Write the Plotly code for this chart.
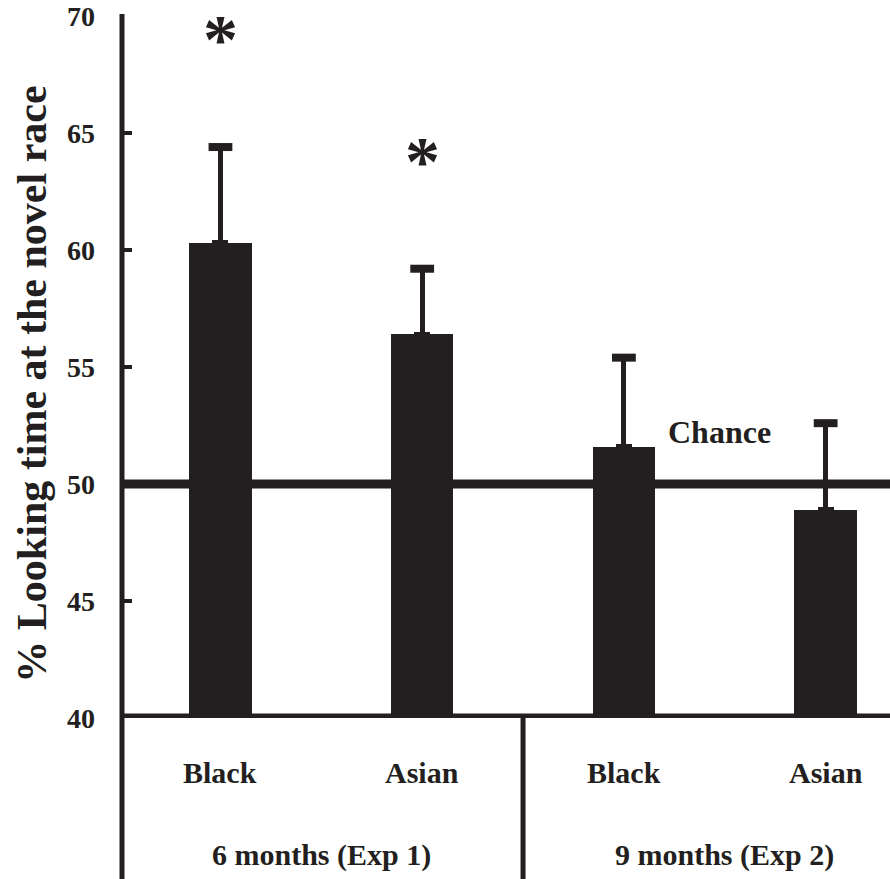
import plotly.graph_objects as go

# Looking-time preference for the novel race, by age group
categories = ["Black", "Asian", "Black", "Asian"]
groups = ["6 months (Exp 1)", "9 months (Exp 2)"]
means = [60.3, 56.4, 51.6, 48.9]
sem = [4.1, 2.8, 3.8, 3.7]
significant = [True, True, False, False]
chance_level = 50
y_ticks = [40, 45, 50, 55, 60, 65, 70]

INK = "#231f20"
FONT = "Liberation Serif"
xpos = list(range(len(categories)))

fig = go.Figure()

fig.add_trace(go.Bar(
    x=xpos, y=means, width=0.31,
    marker=dict(color=INK, line=dict(width=0)),
    error_y=dict(type="data", symmetric=False, array=sem,
                 arrayminus=[0] * len(sem), color=INK, thickness=5, width=8),
    showlegend=False, hoverinfo="skip",
))

# heavier caps on the error bars
tops = [m + s for m, s in zip(means, sem)]
fig.add_trace(go.Scatter(
    x=xpos, y=tops, mode="markers",
    marker=dict(symbol="line-ew", size=17, line=dict(width=8, color=INK)),
    showlegend=False, hoverinfo="skip",
))

# chance level line and baseline
fig.add_shape(type="line", xref="paper", yref="y", x0=0, x1=1,
              y0=chance_level, y1=chance_level, line=dict(color=INK, width=9))
fig.add_shape(type="line", xref="paper", yref="y", x0=0, x1=1,
              y0=y_ticks[0], y1=y_ticks[0], line=dict(color=INK, width=9))
# vertical axis running down through the label area
fig.add_shape(type="line", xref="paper", yref="paper", x0=0, x1=0,
              y0=-0.23, y1=1.003, line=dict(color=INK, width=5))
# divider between the two age groups
fig.add_shape(type="line", xref="x", yref="paper", x0=1.5, x1=1.5,
              y0=-0.23, y1=0, line=dict(color=INK, width=5))

fig.add_annotation(x=2.476, y=chance_level, xref="x", yref="y",
                   text="Chance", showarrow=False, yanchor="bottom", yshift=32,
                   font=dict(family=FONT, size=32, color=INK, weight="bold"))

for i, (t, sig) in enumerate(zip(tops, significant)):
    if sig:
        fig.add_annotation(x=i, y=t + 4.6, xref="x", yref="y", text="*",
                           showarrow=False, yanchor="middle",
                           font=dict(family=FONT, size=70, color=INK, weight="bold"))

for i, c in enumerate(categories):
    fig.add_annotation(x=i, y=-0.078, xref="x", yref="paper", text=c,
                       showarrow=False, yanchor="middle",
                       font=dict(family=FONT, size=30, color=INK, weight="bold"))

for g, name in enumerate(groups):
    fig.add_annotation(x=2 * g + 0.5, y=-0.195, xref="x", yref="paper", text=name,
                       showarrow=False, yanchor="middle",
                       font=dict(family=FONT, size=30, color=INK, weight="bold"))

fig.add_annotation(x=-0.15, y=0.476, xref="paper", yref="paper",
                   text="% Looking time at the novel race", textangle=-90,
                   showarrow=False,
                   font=dict(family=FONT, size=42, color=INK, weight="bold"))

fig.update_xaxes(range=[-0.488, 3.319], showticklabels=False, ticks="",
                 showgrid=False, zeroline=False, showline=False)
fig.update_yaxes(range=[40, 70], tickvals=y_ticks, ticks="inside", ticklen=10,
                 tickwidth=4, tickcolor=INK, showgrid=False, zeroline=False,
                 showline=False, ticklabelstandoff=26,
                 tickfont=dict(family=FONT, size=28, color=INK, weight="bold"))

fig.update_layout(width=890, height=879, margin=dict(l=122, r=0, t=16, b=161),
                  plot_bgcolor="white", paper_bgcolor="white", bargap=0)

fig.write_html("out.html")
